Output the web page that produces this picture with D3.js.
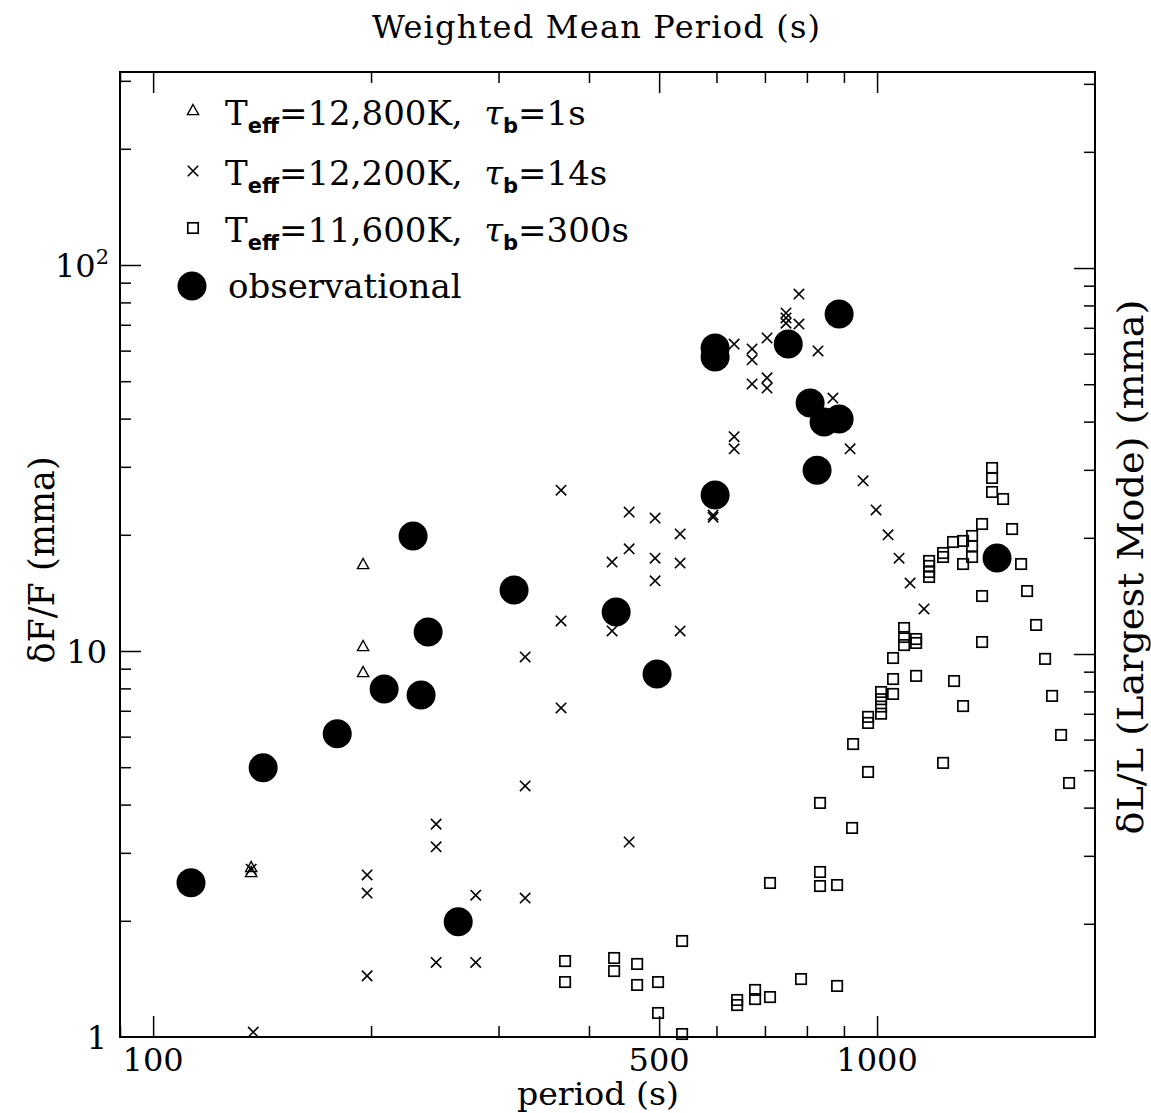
<!DOCTYPE html>
<html lang="en">
<head>
<meta charset="UTF-8">
<title>Period vs amplitude</title>
<script src="https://d3js.org/d3.v7.min.js" type="text/javascript"></script>
<style>
    body { margin: 0; background: #fff; }
    text { font-family: "DejaVu Serif", serif; fill: #000; }
    .axis line { stroke: #000; stroke-width: 1.5; }
</style>
</head>
<body>
<svg id="chart" width="1151" height="1113"></svg>
<script>
    // Teff=12,800K, tau_b=1s  (triangles)
    var triPeriod = [136.6, 136.6, 195, 195, 195];
    var triAmp = [2.74, 2.66, 16.7, 10.24, 8.77];

    // Teff=12,200K, tau_b=14s  (crosses)
    var crossPeriod = [136.6, 137.5, 197.5, 197.5, 197.5, 246, 246, 246, 279, 279,
        326.5, 326.5, 326.5, 366, 366, 366, 430.5, 430.5, 454.5, 454.5, 454.5,
        493.6, 493.6, 493.6, 534.5, 534.5, 534.5, 593.6, 593.6, 634.7, 634.7, 634.7,
        672, 672, 672, 704.7, 704.7, 704.7, 748.5, 748.5, 748.5, 780, 780, 828.8,
        869, 917.8, 956.5, 996.8, 1035.6, 1072.5, 1110.7, 1161];
    var crossAmp = [2.72, 1.03, 2.63, 2.36, 1.44, 3.56, 3.11, 1.56, 2.33, 1.56,
        9.65, 4.47, 2.29, 26.1, 11.96, 7.12, 17.0, 11.27, 22.9, 18.4, 3.2,
        22.1, 17.4, 15.2, 20.1, 16.9, 11.27, 22.5, 22.2, 35.9, 33.4, 62.4,
        60.6, 56.8, 49.2, 64.7, 51.0, 48.0, 75.1, 72.9, 70.7, 84.1, 70.3, 59.9,
        45.2, 33.4, 27.6, 23.2, 20.0, 17.4, 15.0, 12.85];

    // Teff=11,600K, tau_b=300s  (squares)
    var sqPeriod = [370.7, 370.7, 433.3, 433.3, 466.2, 466.2, 498.3, 498.3, 537.9, 537.9,
        640.8, 640.8, 678.4, 678.4, 711.4, 785.2, 880.6, 711.4, 834.1, 834.1, 880.6,
        834.1, 923.6, 926.6, 971.8, 971.8, 971.8, 1012.8, 1012.8, 1012.8, 1012.8,
        1052.2, 1052.2, 1052.2, 1089.7, 1089.7, 1089.7, 1132.2, 1132.2, 1132.2,
        1179.9, 1179.9, 1179.9, 1179.9, 1233.6, 1233.6, 1233.6, 1273.4, 1277.5,
        1314.6, 1314.6, 1314.6, 1352.8, 1352.8, 1352.8, 1396.5, 1396.5, 1396.5,
        1441.6, 1441.6, 1441.6, 1493, 1536.3, 1581, 1611.5, 1658.3, 1706.4, 1744.8,
        1795.4, 1841.7];
    var sqAmp = [1.573, 1.388, 1.602, 1.482, 1.546, 1.364, 1.388, 1.154, 1.773, 1.018,
        1.247, 1.210, 1.324, 1.254, 1.269, 1.413, 1.356, 2.506, 2.676, 2.461, 2.476,
        4.04, 3.48, 5.74, 4.86, 6.75, 6.51, 7.83, 7.50, 7.18, 6.88,
        7.74, 9.59, 8.46, 11.47, 10.87, 10.36, 10.74, 10.49, 8.62,
        17.11, 16.61, 16.02, 15.55, 17.94, 17.52, 5.13, 19.16, 8.36,
        19.28, 16.8, 7.2, 19.86, 18.71, 17.52, 21.33, 13.88, 10.55,
        29.79, 28.07, 25.82, 24.76, 20.7, 16.8, 14.3, 11.68, 9.54, 7.65,
        6.06, 4.55];

    // observational (filled circles)
    var obsPeriod = [112.8, 141.9, 179.6, 208.5, 234.5, 228.6, 239.8, 263.9, 315.2, 436.1,
        496.7, 597.4, 597.4, 597.4, 753.9, 886.3, 808.2, 844.9, 886.3, 826.3, 1464.6];
    var obsAmp = [2.51, 4.98, 6.10, 7.97, 7.69, 19.86, 11.2, 1.99, 14.39, 12.62,
        8.72, 25.36, 60.96, 57.77, 62.4, 74.6, 43.9, 39.2, 39.9, 29.4, 17.41];

    var xMajor = [100, 500, 1000];
    var xMinor = [90, 200, 300, 400, 600, 700, 800, 900];
    var yMajor = [10, 100];
    var yMinor = [2, 3, 4, 5, 6, 7, 8, 9, 20, 30, 40, 50, 60, 70, 80, 90, 200, 300];

    var legendRows = [
        {temp: '12,800K', tau: '1s', mark: 'tri'},
        {temp: '12,200K', tau: '14s', mark: 'cross'},
        {temp: '11,600K', tau: '300s', mark: 'sq'}
    ];

    var svg = d3.select('#chart');
    var pLeft = 120, pRight = 1095, pTop = 72, pBottom = 1037;

    var x = d3.scaleLog().domain([90, 2000]).range([pLeft, pRight]);
    var y = d3.scaleLog().domain([1, 316.2]).range([pBottom, pTop]);
    var yR = d3.scaleLog().domain([1.018, 322]).range([pBottom, pTop]); // right axis, slightly offset

    var majorLen = 21, minorLen = 11;

    function ticks(axisFn, scale, vals, len, tr) {
        var g = svg.append('g').attr('class', 'axis').attr('transform', tr)
            .call(axisFn(scale).tickValues(vals).tickSize(-len).tickSizeOuter(0).tickFormat(''));
        g.select('.domain').remove();
    }

    ticks(d3.axisBottom, x, xMajor, majorLen, 'translate(0,' + pBottom + ')');
    ticks(d3.axisBottom, x, xMinor, minorLen, 'translate(0,' + pBottom + ')');
    ticks(d3.axisTop, x, xMajor, majorLen, 'translate(0,' + pTop + ')');
    ticks(d3.axisTop, x, xMinor, minorLen, 'translate(0,' + pTop + ')');
    ticks(d3.axisLeft, y, yMajor, majorLen, 'translate(' + pLeft + ',0)');
    ticks(d3.axisLeft, y, yMinor, minorLen, 'translate(' + pLeft + ',0)');
    ticks(d3.axisRight, yR, yMajor, majorLen, 'translate(' + pRight + ',0)');
    ticks(d3.axisRight, yR, yMinor, minorLen, 'translate(' + pRight + ',0)');

    svg.append('rect')
        .attr('x', pLeft).attr('y', pTop)
        .attr('width', pRight - pLeft).attr('height', pBottom - pTop)
        .attr('fill', 'none').attr('stroke', '#000').attr('stroke-width', 2);

    // tick labels
    svg.selectAll('.xlab').data(xMajor).enter().append('text')
        .attr('class', 'xlab')
        .attr('x', d => x(d)).attr('y', pBottom + 34)
        .attr('text-anchor', 'middle').style('font-size', '32px')
        .text(d => d);

    var ylabs = [{v: 1, t: '1'}, {v: 10, t: '10'}, {v: 100, t: '10', sup: '2'}];
    ylabs.forEach(function (d) {
        var t = svg.append('text')
            .attr('x', d.sup ? 109 : 107).attr('y', y(d.v) + 12)
            .attr('text-anchor', 'end').style('font-size', '32px');
        if (d.sup) {
            t.append('tspan').text(d.t);
            t.append('tspan').attr('dy', -13).style('font-size', '21px').text(d.sup);
        } else {
            t.text(d.t);
        }
    });

    // axis titles
    svg.append('text').attr('x', 596).attr('y', 38).attr('text-anchor', 'middle')
        .attr('textLength', 448).attr('lengthAdjust', 'spacing')
        .style('font-size', '32px').text('Weighted Mean Period (s)');
    svg.append('text').attr('x', 598).attr('y', 1105).attr('text-anchor', 'middle')
        .attr('textLength', 162).attr('lengthAdjust', 'spacingAndGlyphs')
        .style('font-size', '32px').text('period (s)');
    svg.append('text').attr('transform', 'translate(54,560) rotate(-90)')
        .attr('text-anchor', 'middle').style('font-size', '35px').text('δF/F (mma)');
    svg.append('text').attr('transform', 'translate(1143,567) rotate(-90)')
        .attr('text-anchor', 'middle').style('font-size', '35px')
        .attr('textLength', 535).attr('lengthAdjust', 'spacingAndGlyphs')
        .text('δL/L (Largest Mode) (mma)');

    // marker shapes
    function drawMark(g, kind) {
        if (kind === 'tri') {
            g.append('path').attr('d', 'M0,-6.5L5.6,3.6L-5.6,3.6Z')
                .attr('fill', 'none').attr('stroke', '#000').attr('stroke-width', 1.4);
        } else if (kind === 'cross') {
            g.append('path').attr('d', 'M-5.2,-5.2L5.2,5.2M-5.2,5.2L5.2,-5.2')
                .attr('fill', 'none').attr('stroke', '#000').attr('stroke-width', 1.6);
        } else if (kind === 'sq') {
            g.append('rect').attr('x', -5.2).attr('y', -5.2).attr('width', 10.4).attr('height', 10.4)
                .attr('fill', 'none').attr('stroke', '#000').attr('stroke-width', 1.7);
        } else {
            g.append('circle').attr('r', 14.5).attr('fill', '#000');
        }
    }

    function series(px, py, kind) {
        var pts = px.map((p, i) => [p, py[i]]);
        svg.append('g').selectAll('g').data(pts).enter().append('g')
            .attr('transform', d => 'translate(' + x(d[0]) + ',' + y(d[1]) + ')')
            .each(function () { drawMark(d3.select(this), kind); });
    }

    series(sqPeriod, sqAmp, 'sq');
    series(crossPeriod, crossAmp, 'cross');
    series(triPeriod, triAmp, 'tri');
    series(obsPeriod, obsAmp, 'obs');

    // legend
    var legY = [111, 171, 228, 286];
    legendRows.forEach(function (r, i) {
        drawMark(svg.append('g').attr('transform', 'translate(193,' + legY[i] + ')'), r.mark);
        var t = svg.append('text').attr('x', 225).attr('y', legY[i] + 14).style('font-size', '34px');
        t.append('tspan').text('T');
        t.append('tspan').attr('dy', 8).style('font-family', '"DejaVu Sans", sans-serif')
            .style('font-weight', 'bold').style('font-size', '21px').text('eff');
        t.append('tspan').attr('dy', -8).text('=' + r.temp + ',\u00a0\u00a0');
        t.append('tspan').style('font-style', 'italic').text('τ');
        t.append('tspan').attr('dy', 8).style('font-family', '"DejaVu Sans", sans-serif')
            .style('font-weight', 'bold').style('font-size', '21px').text('b');
        t.append('tspan').attr('dy', -8).text('=' + r.tau);
    });
    drawMark(svg.append('g').attr('transform', 'translate(192,' + legY[3] + ')'), 'obs');
    svg.append('text').attr('x', 228).attr('y', legY[3] + 12).style('font-size', '34px')
        .text('observational');
</script>
</body>
</html>
